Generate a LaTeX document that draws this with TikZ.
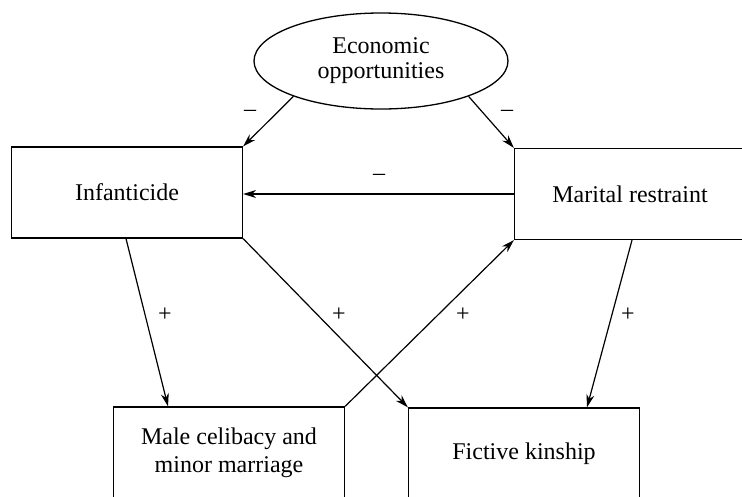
\documentclass[tikz,border=0pt]{standalone}
\usepackage{fontspec}
\setmainfont{Liberation Serif}
\usetikzlibrary{shapes.geometric,arrows.meta,calc}
\begin{document}
\begin{tikzpicture}[x=1pt,y=-1pt,
  box/.style={draw, line width=1.3pt, minimum width=231pt, minimum height=91pt, inner sep=0pt, align=center, font=\fontsize{24}{28}\selectfont},
  oval/.style={draw, ellipse, line width=1.3pt, minimum width=254pt, minimum height=96pt, inner sep=0pt, align=center, font=\fontsize{24}{25}\selectfont},
  link/.style={line width=1.2pt, -{Stealth[length=13pt,width=8pt]}},
  sign/.style={font=\fontsize{24}{28}\selectfont, inner sep=0pt}]
\useasboundingbox (0,0) rectangle (742,496);
\node[oval] (eco) at (381,61) {Economic\\opportunities};
\node[box] (inf) at (127,192.5) {Infanticide};
\node[box] (mar) at (630,194) {Marital restraint};
\node[box] (male) at (229,452.5) {Male celibacy and\\minor marriage};
\node[box] (fic) at (524,453.5) {Fictive kinship};

\draw[link] (eco.202) -- (inf.north east);
\draw[link] (eco.338) -- (mar.north west);
\draw[link] (mar.west) -- (inf.east |- mar.west);
\draw[link] ([xshift=-1pt]inf.south) -- ([xshift=-61pt]male.north);
\draw[link] (inf.south east) -- (fic.north west);
\draw[link] (male.north east) -- (mar.south west);
\draw[link] ([xshift=2pt]mar.south) -- ([xshift=63pt]fic.north);

\node[sign] (s1) at (250,113) {--};
\node[sign] (s2) at (507,113) {--};
\node[sign] (s3) at (379,177) {--};
\node[sign] (s4) at (165,315) {+};
\node[sign] (s5) at (339,315) {+};
\node[sign] (s6) at (463,315) {+};
\node[sign] (s7) at (628,315) {+};
\end{tikzpicture}
\end{document}
